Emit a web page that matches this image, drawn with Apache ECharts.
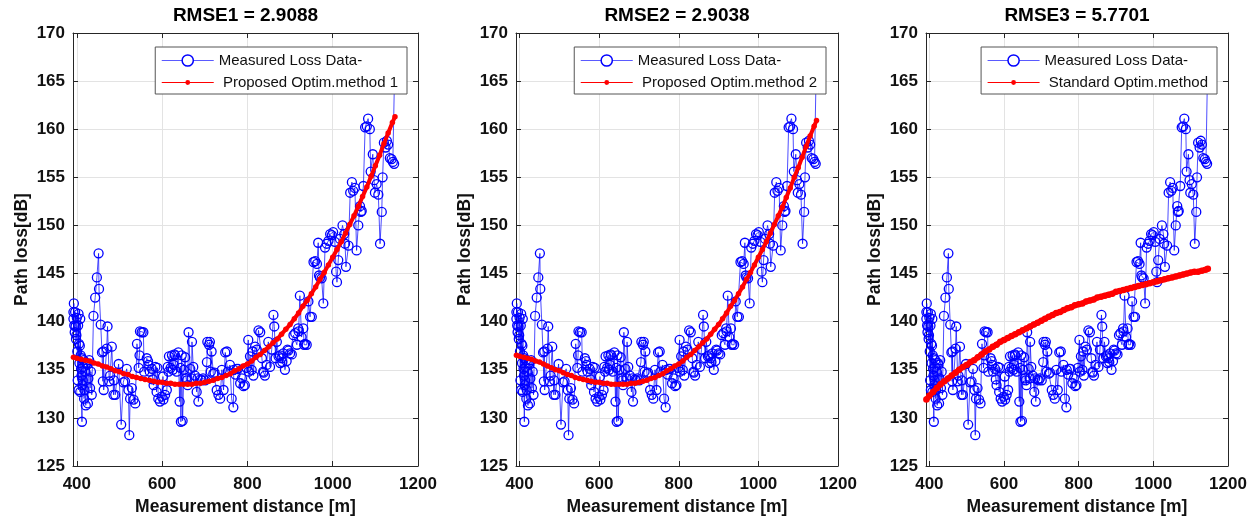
<!DOCTYPE html>
<html>
<head>
<meta charset="utf-8">
<script src="https://cdn.jsdelivr.net/npm/echarts@6/dist/echarts.min.js"></script>
<style>
  html, body { margin: 0; padding: 0; background: #fff; }
  #chart { width: 1257px; height: 521px; }
</style>
</head>
<body>
<div id="chart"></div>
<script>
// Measured path loss versus distance (m, dB)
const measDist = [
  392, 392, 393, 394, 395, 396, 397, 398, 399, 400,
  401, 402, 403, 404, 404, 405, 406, 407, 408, 408,
  409, 410, 411, 412, 412, 413, 414, 415, 416, 417,
  418, 420, 421, 423, 424, 426, 427, 429, 431, 433,
  435, 439, 443, 447, 451, 452, 456, 459, 461, 462,
  463, 470, 472, 476, 478, 482, 486, 487, 490, 498,
  504, 509, 513, 517, 521, 523, 525, 529, 533, 537,
  541, 545, 547, 548, 552, 556, 558, 564, 567, 568,
  571, 576, 578, 580, 584, 587, 589, 591, 595, 599,
  602, 603, 607, 611, 613, 615, 616, 620, 623, 625,
  627, 629, 630, 634, 638, 641, 643, 644, 646, 648,
  651, 654, 656, 658, 660, 662, 666, 669, 670, 673,
  677, 681, 683, 685, 690, 693, 696, 701, 705, 706,
  710, 712, 714, 716, 720, 723, 728, 732, 736, 740,
  744, 748, 752, 754, 759, 763, 767, 768, 772, 775,
  778, 783, 787, 791, 794, 798, 802, 803, 806, 810,
  812, 814, 818, 822, 826, 830, 834, 837, 838, 841,
  845, 849, 853, 857, 861, 863, 866, 869, 873, 876,
  877, 880, 882, 884, 888, 892, 894, 896, 900, 904,
  908, 912, 916, 919, 920, 923, 927, 931, 933, 935,
  939, 943, 947, 951, 955, 959, 963, 966, 968, 970,
  974, 978, 982, 986, 990, 994, 998, 1001, 1005, 1008,
  1010, 1013, 1017, 1023, 1027, 1029, 1031, 1037, 1041, 1045,
  1048, 1052, 1056, 1060, 1064, 1066, 1068, 1072, 1076, 1080,
  1083, 1087, 1089, 1094, 1097, 1099, 1103, 1107, 1111, 1115,
  1117, 1120, 1124, 1127, 1130, 1134, 1138, 1141, 1144, 1146
];
const measLoss = [
  141.0, 140.3, 141.9, 139.6, 138.9, 141.0, 139.5, 138.2, 138.6, 140.4,
  136.9, 133.9, 139.6, 132.9, 140.8, 137.7, 135.7, 137.5, 132.7, 140.3,
  136.5, 135.1, 134.4, 129.6, 136.2, 133.4, 133.9, 135.3, 136.0, 132.0,
  132.9, 134.8, 131.3, 135.7, 135.5, 131.5, 134.1, 136.0, 133.1, 134.8,
  132.4, 140.6, 142.5, 144.6, 147.1, 143.4, 139.7, 136.8, 133.8, 136.9,
  132.9, 137.2, 139.5, 133.8, 134.4, 137.4, 132.4, 133.9, 132.4, 135.6,
  129.3, 133.7, 133.8, 135.1, 132.9, 128.2, 132.0, 133.1, 131.9, 131.5,
  137.7, 135.2, 136.5, 139.0, 138.9, 138.9, 134.8, 136.2, 135.9, 135.5,
  134.8, 135.1, 134.0, 133.4, 135.3, 132.7, 135.2, 132.0, 131.7, 132.2,
  134.3, 131.9, 132.4, 132.9, 135.3, 134.8, 136.4, 135.2, 136.5, 135.0,
  135.5, 136.6, 136.5, 134.8, 136.8, 131.7, 135.2, 129.6, 136.5, 129.7,
  135.0, 136.3, 134.1, 133.9, 133.4, 138.9, 135.1, 134.1, 137.9, 135.3,
  134.4, 132.7, 134.1, 131.7, 134.0, 133.9, 134.1, 133.9, 135.8, 137.9,
  137.6, 137.9, 134.8, 136.9, 134.6, 134.7, 132.9, 132.4, 132.0, 135.0,
  132.9, 136.8, 136.9, 134.8, 135.5, 132.0, 131.1, 135.0, 134.5, 135.1,
  135.1, 133.6, 134.1, 133.3, 133.4, 135.2, 138.1, 134.8, 136.4, 135.0,
  136.9, 134.4, 137.4, 137.1, 139.1, 138.9, 136.2, 134.8, 134.7, 134.4,
  135.5, 137.9, 135.3, 137.1, 140.7, 139.5, 136.2, 137.9, 136.4, 136.5,
  135.7, 136.2, 135.8, 136.7, 135.0, 135.9, 137.1, 137.0, 136.7, 136.6,
  138.6, 138.8, 137.6, 139.3, 139.0, 142.7, 138.4, 139.3, 137.6, 137.7,
  137.6, 142.1, 140.5, 140.5, 146.2, 146.3, 146.0, 148.2, 144.8, 144.6,
  144.5, 141.9, 147.7, 148.1, 148.4, 149.1, 149.0, 149.3, 148.3, 145.2,
  144.1, 146.4, 148.6, 150.0, 149.1, 148.1, 145.7, 147.9, 153.4, 154.5,
  153.6, 153.9, 147.4, 150.0, 152.0, 151.4, 151.5, 154.1, 160.2, 160.3,
  161.1, 160.0, 155.6, 157.4, 154.7, 153.4, 154.3, 153.2, 148.1, 151.4,
  155.0, 158.6, 158.1, 158.8, 158.4, 157.0, 156.9, 156.6, 156.4, 168.0
];

// Distances at which the fitted models are plotted
const fitDist = [
  392, 400, 410, 420, 430, 440, 450, 460, 470, 480,
  490, 500, 510, 520, 530, 540, 550, 560, 570, 580,
  590, 600, 610, 620, 630, 640, 650, 660, 670, 680,
  690, 700, 710, 720, 730, 740, 750, 760, 770, 780,
  790, 800, 810, 820, 830, 840, 850, 860, 870, 880,
  890, 900, 910, 920, 930, 940, 950, 960, 970, 980,
  990, 1000, 1010, 1020, 1030, 1040, 1050, 1060, 1070, 1080,
  1090, 1100, 1110, 1120, 1130, 1140, 1146
];
// Proposed optimisation method 1
const fitLoss1 = [
  136.3, 136.2, 136.1, 136.0, 135.9, 135.7, 135.6, 135.4, 135.3, 135.1,
  134.9, 134.8, 134.6, 134.5, 134.3, 134.2, 134.1, 134.0, 133.9, 133.8,
  133.7, 133.7, 133.6, 133.6, 133.5, 133.5, 133.5, 133.5, 133.5, 133.6,
  133.6, 133.7, 133.8, 133.9, 134.1, 134.2, 134.4, 134.6, 134.9, 135.1,
  135.4, 135.6, 135.9, 136.3, 136.6, 137.0, 137.4, 137.8, 138.2, 138.7,
  139.2, 139.7, 140.3, 140.9, 141.6, 142.2, 142.9, 143.6, 144.4, 145.1,
  145.9, 146.7, 147.5, 148.3, 149.2, 150.1, 151.0, 152.0, 153.0, 154.0,
  155.1, 156.2, 157.3, 158.5, 159.6, 160.7, 161.3
];
// Proposed optimisation method 2
const fitLoss2 = [
  136.5, 136.4, 136.3, 136.2, 136.1, 135.9, 135.8, 135.6, 135.4, 135.2,
  135.0, 134.9, 134.7, 134.5, 134.4, 134.2, 134.1, 134.0, 133.9, 133.8,
  133.7, 133.7, 133.6, 133.6, 133.5, 133.5, 133.5, 133.5, 133.5, 133.6,
  133.6, 133.7, 133.8, 133.9, 134.1, 134.2, 134.4, 134.6, 134.9, 135.1,
  135.4, 135.6, 135.9, 136.3, 136.6, 137.0, 137.4, 137.8, 138.2, 138.7,
  139.2, 139.7, 140.3, 140.9, 141.6, 142.2, 142.9, 143.6, 144.4, 145.1,
  145.9, 146.7, 147.5, 148.3, 149.2, 150.1, 151.0, 151.9, 152.9, 153.9,
  155.0, 156.0, 157.1, 158.2, 159.3, 160.3, 160.9
];
// Standard optimisation method
const fitLoss3 = [
  131.9, 132.3, 132.7, 133.1, 133.5, 133.8, 134.1, 134.4, 134.7, 135.0,
  135.3, 135.5, 135.8, 136.0, 136.3, 136.6, 136.9, 137.1, 137.4, 137.6,
  137.9, 138.1, 138.3, 138.5, 138.7, 138.9, 139.1, 139.3, 139.5, 139.7,
  139.9, 140.1, 140.3, 140.5, 140.7, 140.9, 141.0, 141.2, 141.4, 141.5,
  141.7, 141.8, 141.9, 142.1, 142.2, 142.3, 142.5, 142.6, 142.7, 142.8,
  142.9, 143.1, 143.2, 143.3, 143.4, 143.5, 143.6, 143.7, 143.8, 143.9,
  144.0, 144.1, 144.2, 144.3, 144.4, 144.5, 144.6, 144.7, 144.8, 144.9,
  145.0, 145.1, 145.2, 145.2, 145.3, 145.4, 145.5
];

const panelTitles = ['RMSE1 = 2.9088', 'RMSE2 = 2.9038', 'RMSE3 = 5.7701'];
const measName = 'Measured Loss Data-';
const fitNames = [' Proposed Optim.method 1', ' Proposed Optim.method 2', ' Standard Optim.method'];
const fitSeries = [fitLoss1, fitLoss2, fitLoss3];
const xAxisName = 'Measurement distance [m]';
const yAxisName = 'Path loss[dB]';

// Panel geometry (pixels)
const panels = [
  { left: 73,  width: 345, legendRight: 850, fitWidth: 4,   dot: 5.5 },
  { left: 516, width: 322, legendRight: 431, fitWidth: 4,   dot: 5.5 },
  { left: 926, width: 302, legendRight: 40,  fitWidth: 5.5, dot: 6.5 }
];
const PLOT_TOP = 33, PLOT_H = 435;

const FONT = '"Liberation Sans", Arial, Helvetica, sans-serif';
const AXC = '#262626';
const GRIDC = '#e3e3e3';
const BLUE = '#0000ff';
const RED = '#ff0000';

const measPairs = measDist.map((d, k) => [d, measLoss[k]]);

const grid = [], xAxis = [], yAxis = [], series = [], title = [], legend = [];

panels.forEach((p, i) => {
  grid.push({ left: p.left, top: PLOT_TOP, width: p.width, height: PLOT_H, containLabel: false });

  title.push({
    text: panelTitles[i], left: p.left + p.width / 2, top: 6, textAlign: 'center', padding: 0,
    textStyle: { fontFamily: FONT, fontSize: 19, fontWeight: 'bold', color: '#000' }
  });

  const xCommon = {
    type: 'value', gridIndex: i, min: 391, max: 1200, splitNumber: 4,
    minInterval: 200, maxInterval: 200,
    axisLine: { show: true, onZero: false, lineStyle: { color: AXC, width: 1 } },
    axisTick: { show: true, inside: true, length: 5, lineStyle: { color: AXC } }
  };
  xAxis.push(Object.assign({}, xCommon, {
    position: 'bottom',
    axisLabel: { show: true, showMinLabel: false, margin: 10, color: '#111', fontFamily: FONT,
                 fontSize: 17, fontWeight: 'bold', formatter: v => String(v) },
    splitLine: { show: true, lineStyle: { color: GRIDC, width: 1 } },
    name: xAxisName, nameLocation: 'middle', nameGap: 32,
    nameTextStyle: { fontFamily: FONT, fontSize: 17.5, fontWeight: 'bold', color: '#111' }
  }));
  xAxis.push(Object.assign({}, xCommon, {
    position: 'top', axisLabel: { show: false }, splitLine: { show: false }
  }));

  const yCommon = {
    type: 'value', gridIndex: i, min: 125, max: 170, interval: 5,
    axisLine: { show: true, onZero: false, lineStyle: { color: AXC, width: 1 } },
    axisTick: { show: true, inside: true, length: 5, lineStyle: { color: AXC } }
  };
  yAxis.push(Object.assign({}, yCommon, {
    position: 'left',
    axisLabel: { show: true, margin: 8, color: '#111', fontFamily: FONT, fontSize: 17,
                 fontWeight: 'bold', formatter: v => String(v) },
    splitLine: { show: true, lineStyle: { color: GRIDC, width: 1 } },
    name: yAxisName, nameLocation: 'middle', nameGap: 42,
    nameTextStyle: { fontFamily: FONT, fontSize: 17.5, fontWeight: 'bold', color: '#111' }
  }));
  yAxis.push(Object.assign({}, yCommon, {
    position: 'right', axisLabel: { show: false }, splitLine: { show: false }
  }));

  series.push({
    type: 'line', name: measName, xAxisIndex: 2 * i, yAxisIndex: 2 * i,
    data: measPairs, symbol: 'circle', symbolSize: 9, showAllSymbol: true,
    itemStyle: { color: 'rgba(0,0,0,0)', borderColor: BLUE, borderWidth: 1.3 },
    lineStyle: { color: BLUE, width: 0.7 },
    emphasis: { disabled: true }, z: 2
  });
  series.push({
    type: 'line', name: fitNames[i], xAxisIndex: 2 * i, yAxisIndex: 2 * i,
    data: fitDist.map((d, k) => [d, fitSeries[i][k]]),
    symbol: 'circle', symbolSize: p.dot, showAllSymbol: true,
    itemStyle: { color: RED },
    lineStyle: { color: RED, width: p.fitWidth },
    emphasis: { disabled: true }, z: 3
  });

  legend.push({
    orient: 'vertical', right: p.legendRight, top: 47,
    backgroundColor: '#fff', borderColor: '#555', borderWidth: 1, borderRadius: 0,
    padding: [6, 9, 4, 6], itemGap: 7, itemWidth: 52, itemHeight: 14,
    selectedMode: false,
    textStyle: { fontFamily: FONT, fontSize: 15, color: '#111' },
    data: [
      { name: measName,
        itemStyle: { color: '#fff', borderColor: BLUE, borderWidth: 1.5 },
        lineStyle: { color: '#5a5aff', width: 1 } },
      { name: fitNames[i],
        icon: 'path://M0,6.6H52V7.4H0Z M26,4.6A2.4,2.4 0 1 1 26,9.4A2.4,2.4 0 1 1 26,4.6Z' }
    ]
  });
});

const chart = echarts.init(document.getElementById('chart'), null, { renderer: 'canvas' });
chart.setOption({
  animation: false,
  backgroundColor: '#fff',
  title, grid, xAxis, yAxis, legend, series
});
</script>
</body>
</html>
